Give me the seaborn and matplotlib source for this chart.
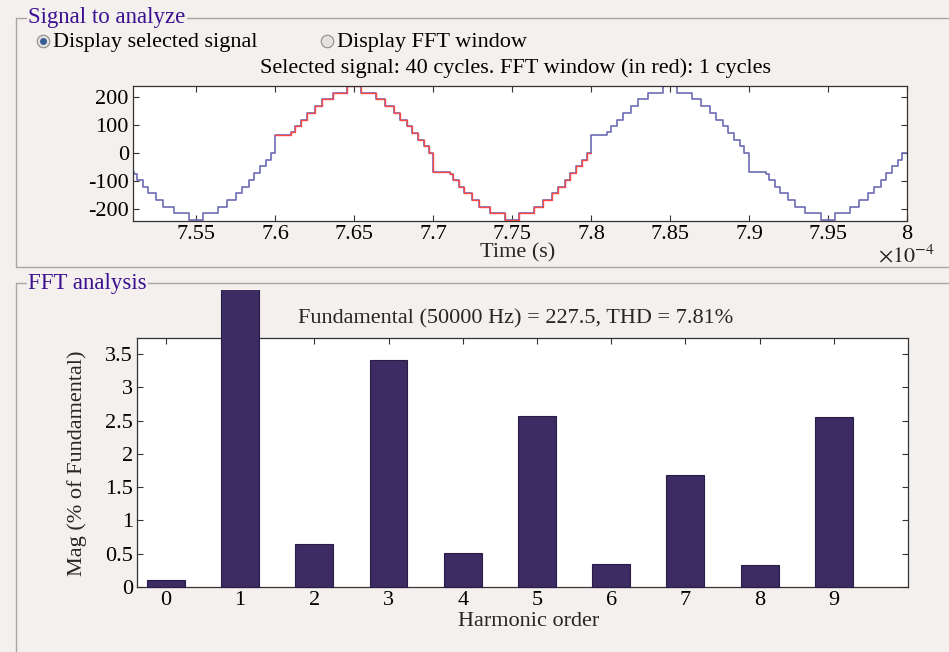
import numpy as np
import pandas as pd
import matplotlib
matplotlib.use("Agg")
import matplotlib.pyplot as plt
import seaborn as sns
from matplotlib.lines import Line2D
from matplotlib.transforms import Bbox, TransformedBbox
from matplotlib.ticker import FuncFormatter

# ---------------- data ----------------
# step-signal breakpoints (time in units of 1e-4 s) and held levels
sig_time = [
    7.5000, 7.5106, 7.5125, 7.5163, 7.5198, 7.5246, 7.5293, 7.5357, 7.5455,
    7.5545, 7.5640, 7.5697, 7.5754, 7.5793, 7.5837, 7.5869, 7.5907, 7.5945, 7.5971,
    7.6000, 7.6100, 7.6128, 7.6163, 7.6204, 7.6255, 7.6296, 7.6363, 7.6455,
    7.6545, 7.6640, 7.6697, 7.6754, 7.6793, 7.6837, 7.6869, 7.6907, 7.6945, 7.6971,
    7.7000, 7.7106, 7.7125, 7.7163, 7.7198, 7.7246, 7.7293, 7.7357, 7.7455,
    7.7545, 7.7640, 7.7697, 7.7754, 7.7793, 7.7837, 7.7869, 7.7907, 7.7945, 7.7971,
    7.8000, 7.8100, 7.8128, 7.8163, 7.8204, 7.8255, 7.8296, 7.8363, 7.8455,
    7.8545, 7.8640, 7.8697, 7.8754, 7.8793, 7.8837, 7.8869, 7.8907, 7.8945, 7.8971,
    7.9000, 7.9106, 7.9125, 7.9163, 7.9198, 7.9246, 7.9293, 7.9357, 7.9455,
    7.9545, 7.9640, 7.9697, 7.9754, 7.9793, 7.9837, 7.9869, 7.9907, 7.9945, 7.9971,
    8.0000,
]
sig_level = [
    -66, -74, -96, -120, -144, -168, -192, -216, -240,
    -216, -192, -168, -144, -120, -96, -72, -48, -24, 0,
    66, 74, 96, 120, 144, 168, 192, 216, 240,
    216, 192, 168, 144, 120, 96, 72, 48, 24, 0,
    -66, -74, -96, -120, -144, -168, -192, -216, -240,
    -216, -192, -168, -144, -120, -96, -72, -48, -24, 0,
    66, 74, 96, 120, 144, 168, 192, 216, 240,
    216, 192, 168, 144, 120, 96, 72, 48, 24, 0,
    -66, -74, -96, -120, -144, -168, -192, -216, -240,
    -216, -192, -168, -144, -120, -96, -72, -48, -24, 0,
    0,
]
fft_window = [7.6, 7.8]          # units of 1e-4 s
time_ticks = [7.55, 7.6, 7.65, 7.7, 7.75, 7.8, 7.85, 7.9, 7.95, 8.0]
sig_yticks = [-200, -100, 0, 100, 200]

harmonic_order = [0, 1, 2, 3, 4, 5, 6, 7, 8, 9]
mag_pct = [0.105, 100.0, 0.646, 3.41, 0.51, 2.57, 0.345, 1.68, 0.33, 2.555]
mag_yticks = [0, 0.5, 1, 1.5, 2, 2.5, 3, 3.5]

subtitle_top = "Selected signal: 40 cycles. FFT window (in red): 1 cycles"
subtitle_fft = "Fundamental (50000 Hz) = 227.5, THD = 7.81%"

# ---------------- style ----------------
BG = "#f3f0ee"
BLUE = "#6c6cb4"
RED = "#ff4a4a"
BAR = "#3d2b63"
PURPLE = "#3c1090"
SPINE = "#333333"
BOX = "#a9a5a1"

sns.set_theme(style="white")
plt.rcParams["font.family"] = ["Liberation Serif", "DejaVu Serif"]
plt.rcParams["mathtext.fontset"] = "stix"
plt.rcParams["axes.unicode_minus"] = False

W, H = 949, 652
fig = plt.figure(figsize=(W / 100, H / 100), dpi=100, facecolor=BG)


def fx(px):
    return px / W


def fy(py):
    return 1 - py / H


FS = 16
TFS = 16

# group boxes
def fline(xs, ys):
    fig.add_artist(Line2D([fx(x) for x in xs], [fy(y) for y in ys],
                          transform=fig.transFigure, color=BOX, lw=1.0))

fline([16, 949], [18, 18])
fline([16, 16], [18, 267])
fline([16, 949], [267, 267])
fline([16, 949], [283, 283])
fline([16, 16], [283, 652])

fig.text(fx(28), fy(18), "Signal to analyze", color=PURPLE, fontsize=16.5,
         va="center", ha="left", bbox=dict(facecolor=BG, edgecolor="none", pad=1))
fig.text(fx(28), fy(283), "FFT analysis", color=PURPLE, fontsize=16.5,
         va="center", ha="left", bbox=dict(facecolor=BG, edgecolor="none", pad=1))

# radio buttons
def radio(px, py, selected):
    fig.add_artist(Line2D([fx(px)], [fy(py)], marker="o", markersize=9,
                          markerfacecolor="#e4e2e0", markeredgecolor="#8e8c8a",
                          markeredgewidth=0.8, transform=fig.transFigure))
    if selected:
        fig.add_artist(Line2D([fx(px)], [fy(py)], marker="o", markersize=4,
                              markerfacecolor="#3a5f95", markeredgecolor="#3a5f95",
                              transform=fig.transFigure))

radio(43, 41, True)
radio(327, 41, False)
fig.text(fx(53), fy(42), "Display selected signal", fontsize=FS, va="center", color="black")
fig.text(fx(337), fy(42), "Display FFT window", fontsize=FS, va="center", color="black")
fig.text(fx(515), fy(68), subtitle_top, fontsize=FS, va="center", ha="center", color="black")

# ---------------- top axes: signal ----------------
ax1 = fig.add_axes([fx(133), fy(221), (907 - 133) / W, (221 - 86) / H])
ax1.set_facecolor("white")
sig = pd.DataFrame({"t": np.array(sig_time) * 1e-4, "v": sig_level})
sns.lineplot(data=sig, x="t", y="v", ax=ax1, color=BLUE, lw=1.2,
             drawstyle="steps-post", estimator=None, sort=False)
win = sig[(sig["t"] >= fft_window[0] * 1e-4 - 1e-12) & (sig["t"] < fft_window[1] * 1e-4 - 1e-12)]
win = pd.concat([win, pd.DataFrame({"t": [fft_window[1] * 1e-4], "v": [win["v"].iloc[-1]]})])
sns.lineplot(data=win, x="t", y="v", ax=ax1, color=RED, lw=1.0,
             drawstyle="steps-post", estimator=None, sort=False)
ax1.set_xlim(7.51e-4, 8.0e-4)
ax1.set_ylim(-243, 240)
ax1.set_xticks(np.array(time_ticks) * 1e-4)
ax1.xaxis.set_major_formatter(FuncFormatter(lambda v, p: "%g" % round(v * 1e4, 4)))
ax1.set_yticks(sig_yticks)
ax1.set_xlabel("")
ax1.set_ylabel("")
fig.text(fx(518), fy(253), "Time (s)", fontsize=FS, ha="center", va="center")
fig.text(fx(878), fy(256), r"$\times10^{-4}$", fontsize=FS, ha="left", va="center")

# ---------------- bottom axes: FFT bars ----------------
ax2 = fig.add_axes([fx(137), fy(587), (908 - 137) / W, (587 - 338) / H])
ax2.set_facecolor("white")
bars = pd.DataFrame({"order": harmonic_order, "mag": mag_pct})
sns.barplot(data=bars, x="order", y="mag", ax=ax2, color=BAR, width=0.51,
            edgecolor="#2a1d45", linewidth=0.8, saturation=1, native_scale=True)
clip = TransformedBbox(Bbox.from_extents(fx(130), fy(600), fx(915), fy(290)), fig.transFigure)
for p in ax2.patches:
    p.set_clip_box(clip)
    p.set_zorder(3)
ax2.set_xlim(-0.39, 10.0)
ax2.set_ylim(0, 3.74)
ax2.set_xticks(harmonic_order)
ax2.set_xticklabels([str(h) for h in harmonic_order])
ax2.set_yticks(mag_yticks)
ax2.yaxis.set_major_formatter(FuncFormatter(lambda v, p: "%g" % v))
ax2.set_xlabel("")
ax2.set_ylabel("")
fig.text(fx(516), fy(319), subtitle_fft, fontsize=FS, ha="center", va="center")
fig.text(fx(529), fy(621), "Harmonic order", fontsize=FS, ha="center", va="center")
fig.text(fx(77), fy(463), "Mag (% of Fundamental)", fontsize=FS, ha="center",
         va="center", rotation=90)

for ax in (ax1, ax2):
    for s in ax.spines.values():
        s.set_visible(True)
        s.set_color(SPINE)
        s.set_linewidth(0.9)
    ax.tick_params(direction="in", length=4, width=0.8, color=SPINE,
                   top=True, right=True, bottom=True, left=True,
                   labelsize=TFS, labelcolor="black", pad=3)

fig.savefig("out.png", dpi=100, facecolor=BG)
